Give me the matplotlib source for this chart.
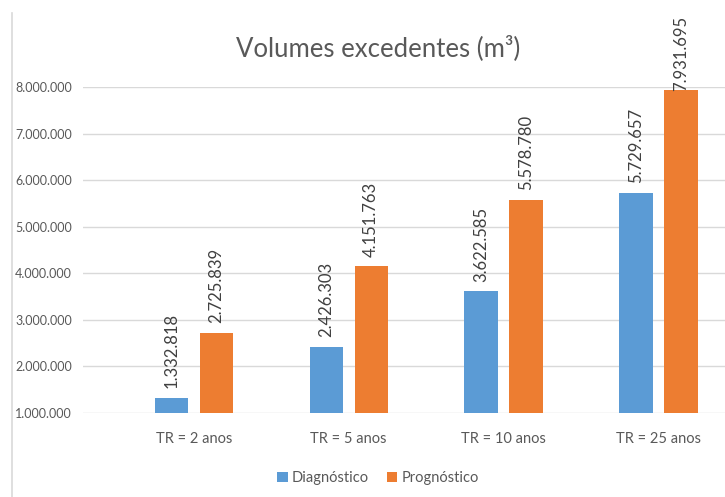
import matplotlib.pyplot as plt
import matplotlib.ticker as mticker
from matplotlib.lines import Line2D
import numpy as np

plt.rcParams['font.family'] = ['Lato', 'DejaVu Sans']

categorias = ["TR = 2 anos", "TR = 5 anos", "TR = 10 anos", "TR = 25 anos"]
diagnostico = [1332818, 2426303, 3622585, 5729657]
prognostico = [2725839, 4151763, 5578780, 7931695]
series = ["Diagnóstico", "Prognóstico"]

azul = "#5B9BD5"
laranja = "#ED7D31"
cinza = "#595959"


def fmt(v):
    return f"{v:,.0f}".replace(",", ".")


fig = plt.figure(figsize=(7.25, 4.97), dpi=100)
ax = fig.add_axes([83 / 725, 1 - 413 / 497, 1 - 83 / 725, (413 - 87) / 497])

x = np.arange(len(categorias))
w = 0.215
off = 0.145

b1 = ax.bar(x - off, diagnostico, w, bottom=0, color=azul, label=series[0], zorder=3)
b2 = ax.bar(x + off, prognostico, w, bottom=0, color=laranja, label=series[1], zorder=3)

# rotulos: o ultimo fica preso dentro da area do grafico, como no Excel
for barras, vals in ((b1, diagnostico), (b2, prognostico)):
    for b, v in zip(barras, vals):
        y = min(v + 200000, 7920000)
        ax.text(b.get_x() + b.get_width() / 2, y, fmt(v), rotation=90,
                ha="center", va="bottom", fontsize=12, color="#404040", clip_on=False)

ax.set_ylim(1000000, 8000000)
ax.set_xlim(-0.716, 3.43)
ax.set_yticks(range(1000000, 8000001, 1000000))
ax.yaxis.set_major_formatter(mticker.FuncFormatter(lambda v, p: fmt(v)))
ax.set_xticks(x)
ax.set_xticklabels(categorias)
ax.tick_params(axis="y", length=0, colors=cinza, labelsize=9, pad=8)
ax.tick_params(axis="x", length=0, colors=cinza, labelsize=10.5, pad=14)
ax.grid(axis="y", color="#D9D9D9", linewidth=1, zorder=0)
for s in ax.spines.values():
    s.set_visible(False)

fig.text(378 / 725, 1 - 48 / 497, "Volumes excedentes (m³)", ha="center", va="center",
         fontsize=18.5, color=cinza)

fig.legend(handles=[b1, b2], labels=series, loc="center", bbox_to_anchor=(378 / 725, 1 - 478 / 497),
           ncol=2, frameon=False, fontsize=10.5, handlelength=0.7, handleheight=0.7,
           handletextpad=0.3, columnspacing=1.2, labelcolor=cinza)

fig.add_artist(Line2D([12 / 725, 12 / 725], [0, 1 - 13 / 497], color="#D9D9D9", linewidth=1.2))

fig.savefig("out.png", dpi=100)
